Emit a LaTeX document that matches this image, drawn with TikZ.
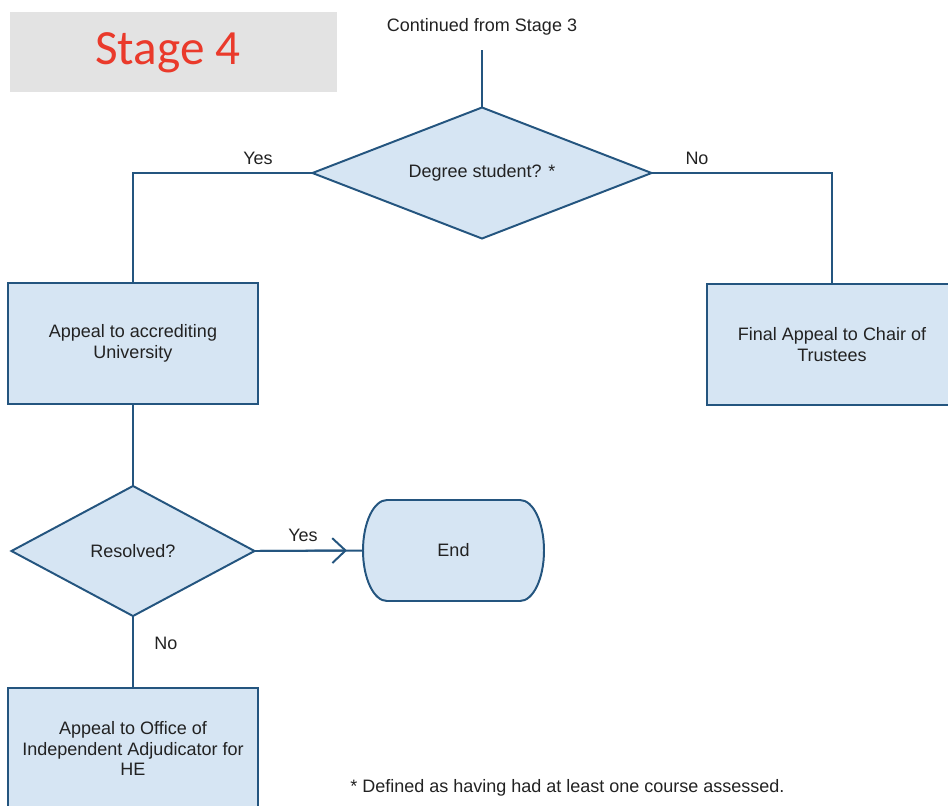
\documentclass[tikz,border=0pt]{standalone}
\usepackage{fontspec}
\setmainfont{Liberation Sans}
\newfontfamily\titlefont{Carlito}
\usetikzlibrary{shapes.geometric, shapes.misc, arrows.meta, positioning}

\definecolor{boxfill}{HTML}{D6E5F3}
\definecolor{boxline}{HTML}{24557F}
\definecolor{stagered}{HTML}{EA3A2B}
\definecolor{stagegray}{HTML}{E3E3E3}
\definecolor{txt}{HTML}{222222}

\tikzset{
  flowtext/.style={font=\fontsize{12.8pt}{14.6pt}\selectfont, text=txt, align=center},
  decision/.style={flowtext, diamond, draw=boxline, fill=boxfill, line width=1.4pt,
    outer sep=0pt, inner sep=0pt, shape aspect=2.6,
    minimum width=8.475cm, minimum height=3.275cm},
  smalldecision/.style={decision, shape aspect=1.87, minimum width=6.075cm, minimum height=3.25cm},
  process/.style={flowtext, rectangle, draw=boxline, fill=boxfill, line width=1.4pt,
    outer sep=0pt, minimum width=6.25cm, minimum height=3.025cm},
  terminal/.style={flowtext, rectangle, outer sep=0pt,
    minimum width=4.525cm, minimum height=2.525cm},
  terminalline/.style={draw=boxline, fill=boxfill, line width=1.4pt},
  flowline/.style={draw=boxline, line width=1.4pt},
  answer/.style={flowtext}
}

\begin{document}
\begin{tikzpicture}[x=0.025cm, y=-0.025cm]

        \useasboundingbox (0,0) rectangle (948,805);
        \clip (0,0) rectangle (948,805);

        % Title panel
        \fill[stagegray] (10,12) rectangle (337,92);
        \node[text=stagered, font=\titlefont\fontsize{35pt}{40pt}\selectfont] (title) at (168,53) {Stage 4};

        \node[flowtext] (start) at (482,27) {Continued from Stage 3};
        \coordinate (startend) at (482,50);

        \node[decision] (degree) at (482,173) {Degree student? *};
        \node[process] (accredit) at (133,343.5) {Appeal to accrediting\\University};
        \node[process] (trustees) at (832,344.5) {Final Appeal to Chair of\\Trustees};
        \node[smalldecision] (resolved) at (133,551) {Resolved?};
        \node[process] (oia) at (133,748.5) {Appeal to Office of\\Independent Adjudicator for\\HE};

        % End box, drawn with elliptic ends
        \path[terminalline] (387,500) -- (520,500)
            arc[start angle=90, end angle=-90, x radius=24, y radius=-50.5]
            -- (387,601)
            arc[start angle=270, end angle=90, x radius=24, y radius=-50.5] -- cycle;
        \node[terminal] (end) at (453.5,550.5) {End};

        % Connectors
        \draw[flowline] (startend) -- (degree.north);
        \draw[flowline] (degree.west) -| (accredit.north);
        \draw[flowline] (degree.east) -| (trustees.north);
        \draw[flowline] (accredit.south) -- (resolved.north);
        \draw[flowline] (resolved.east) -- (end.west);
        \draw[flowline, -{Straight Barb[length=3.3mm, width=6.2mm]}] (resolved.east) -- ([xshift=-0.4cm]end.west);
        \draw[flowline] (resolved.south) -- (oia.north);

        % Answers
        \node[answer] (yes1) at (258,158) {Yes};
        \node[answer] (no1) at (697,158) {No};
        \node[answer] (yes2) at (303,535) {Yes};
        \node[answer] (no2) at (166,643) {No};

        \node[flowtext, anchor=base west, inner sep=0pt] (note) at (350,792) {* Defined as having had at least one course assessed.};

\end{tikzpicture}
\end{document}
